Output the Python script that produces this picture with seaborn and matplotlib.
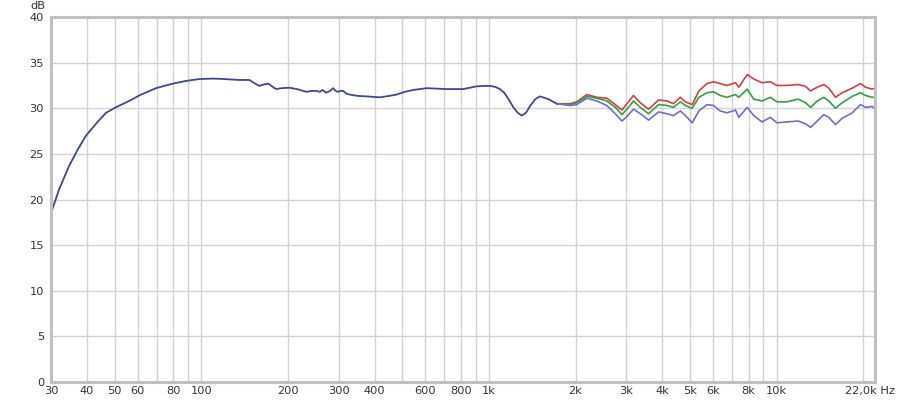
import numpy as np
import pandas as pd
import matplotlib
matplotlib.use("Agg")
import matplotlib.pyplot as plt
from matplotlib.ticker import FixedLocator, NullFormatter
import seaborn as sns

# Réponse commune (les trois courbes se superposent jusqu'à ~1,7 kHz)
freq_common = [30, 32, 34.7, 37.2, 39.7, 43.3, 46.6, 50.4, 56.1, 60.8, 69.5, 79.7, 88.6,
               98.6, 110, 120, 135, 147, 152, 159, 165, 171, 176, 182, 190, 202, 215,
               232, 242, 251, 258, 264, 272, 280, 287, 293, 298, 305, 311, 320, 328,
               350, 375, 417, 450, 477, 510, 545, 607, 712, 814, 906, 960, 1008, 1050,
               1092, 1130, 1170, 1216, 1260, 1300, 1345, 1390, 1450, 1505, 1610, 1720]
db_common = [18.5, 21.1, 23.7, 25.5, 27.0, 28.4, 29.5, 30.1, 30.8, 31.4, 32.2, 32.7, 33.0,
             33.2, 33.25, 33.2, 33.1, 33.1, 32.8, 32.45, 32.6, 32.7, 32.4, 32.1, 32.2,
             32.25, 32.1, 31.8, 31.9, 31.9, 31.8, 32.0, 31.7, 31.9, 32.2, 31.9, 31.8,
             31.9, 31.9, 31.6, 31.5, 31.35, 31.3, 31.2, 31.35, 31.5, 31.8, 32.0, 32.2,
             32.1, 32.1, 32.4, 32.45, 32.45, 32.35, 32.1, 31.7, 31.0, 30.1, 29.5, 29.2,
             29.5, 30.25, 31.0, 31.3, 31.0, 30.5]

# Hautes fréquences : trois mesures qui divergent
freq_hf = [1720, 1915, 2020, 2190, 2370, 2570, 2750, 2900, 3020, 3180, 3360, 3590, 3890,
           4160, 4380, 4630, 4820, 5090, 5370, 5730, 6040, 6370, 6730, 7200, 7390, 7910,
           8330, 8900, 9520, 10040, 10870, 11910, 12600, 13140, 13850, 14600, 15200,
           16030, 16910, 18330, 19590, 20400, 21480, 22000]
red_db = [30.5, 30.5, 30.7, 31.5, 31.2, 31.1, 30.4, 29.8, 30.5, 31.4, 30.6, 29.9, 30.9,
          30.8, 30.5, 31.2, 30.7, 30.4, 31.9, 32.7, 32.9, 32.7, 32.5, 32.8, 32.3, 33.7,
          33.2, 32.8, 32.9, 32.5, 32.5, 32.6, 32.4, 31.9, 32.3, 32.6, 32.2, 31.2, 31.7,
          32.2, 32.7, 32.3, 32.1, 32.2]
green_db = [30.5, 30.4, 30.6, 31.3, 31.1, 30.8, 30.1, 29.3, 29.9, 30.8, 30.1, 29.4, 30.4,
            30.3, 30.1, 30.7, 30.3, 30.0, 31.2, 31.7, 31.8, 31.4, 31.2, 31.5, 31.2, 32.1,
            31.0, 30.8, 31.2, 30.7, 30.7, 31.0, 30.6, 30.1, 30.8, 31.2, 30.8, 30.0, 30.6,
            31.3, 31.7, 31.4, 31.2, 31.2]
blue_db = [30.5, 30.3, 30.4, 31.1, 30.8, 30.3, 29.4, 28.6, 29.1, 29.9, 29.4, 28.7, 29.6,
           29.4, 29.2, 29.7, 29.2, 28.4, 29.7, 30.4, 30.3, 29.7, 29.5, 29.8, 29.0, 30.1,
           29.2, 28.5, 29.0, 28.4, 28.5, 28.6, 28.3, 27.9, 28.6, 29.3, 29.0, 28.2, 28.9,
           29.5, 30.4, 30.1, 30.2, 29.9]

x_ticks = [30, 40, 50, 60, 80, 100, 200, 300, 400, 600, 800, 1000,
           2000, 3000, 4000, 5000, 6000, 8000, 10000]
x_labels = ["30", "40", "50", "60", "80", "100", "200", "300", "400", "600", "800", "1k",
            "2k", "3k", "4k", "5k", "6k", "8k", "10k"]
y_ticks = [0, 5, 10, 15, 20, 25, 30, 35, 40]

sns.set_style("white")
plt.rcParams["font.family"] = ["DejaVu Sans"]

fig = plt.figure(figsize=(9, 4.05), dpi=100)
ax = fig.add_axes([51 / 900, 1 - 382 / 405, (875 - 51) / 900, (382 - 17) / 405])

# lignes de grille (1..9 par décade, plus 20k)
grid_freqs = [f * m for m in (10, 100, 1000) for f in range(1, 10)
              if 30 <= f * m <= 22000] + [10000, 20000]
for f in grid_freqs:
    ax.axvline(f, color="#d4d4d4", lw=1, zorder=0)
for y in y_ticks:
    ax.axhline(y, color="#d4d4d4", lw=1, zorder=0)

df_hf = pd.DataFrame({"freq": freq_hf, "rouge": red_db, "vert": green_db, "bleu": blue_db})
df_hf = df_hf.melt(id_vars="freq", var_name="mesure", value_name="dB")

sns.lineplot(data=df_hf, x="freq", y="dB", hue="mesure",
             palette={"rouge": "#d04040", "vert": "#35a03d", "bleu": "#6e6ed9"},
             lw=1.2, ax=ax, legend=False)
sns.lineplot(x=freq_common, y=db_common, color="#3e4794", lw=1.3, ax=ax)

ax.set_xscale("log")
ax.set_xlim(30, 22000)
ax.set_ylim(0, 40)
ax.xaxis.set_major_locator(FixedLocator(x_ticks))
ax.xaxis.set_minor_locator(FixedLocator([]))
ax.xaxis.set_minor_formatter(NullFormatter())
ax.set_xticklabels(x_labels)
ax.set_yticks(y_ticks)
ax.tick_params(axis="x", length=0, pad=3, labelsize=8.2, labelcolor="#333333")
ax.tick_params(axis="y", length=3, width=1, color="#b0b0b0", pad=2,
               labelsize=8.2, labelcolor="#333333")
ax.set_xlabel("")
ax.set_ylabel("")

for side in ["left", "bottom", "top", "right"]:
    ax.spines[side].set_color("#c0c0c0")
    ax.spines[side].set_linewidth(2.2)

ax.annotate("22,0k Hz", xy=(22000, 0), xycoords=("data", "axes fraction"),
            xytext=(14.5, -3), textcoords="offset points", ha="right", va="top",
            fontsize=8.2, color="#333333")
ax.annotate("dB", xy=(0, 1), xycoords="axes fraction", xytext=(-4, 4),
            textcoords="offset points", ha="right", va="bottom",
            fontsize=8.2, color="#333333")

fig.savefig("out.png", dpi=100)
